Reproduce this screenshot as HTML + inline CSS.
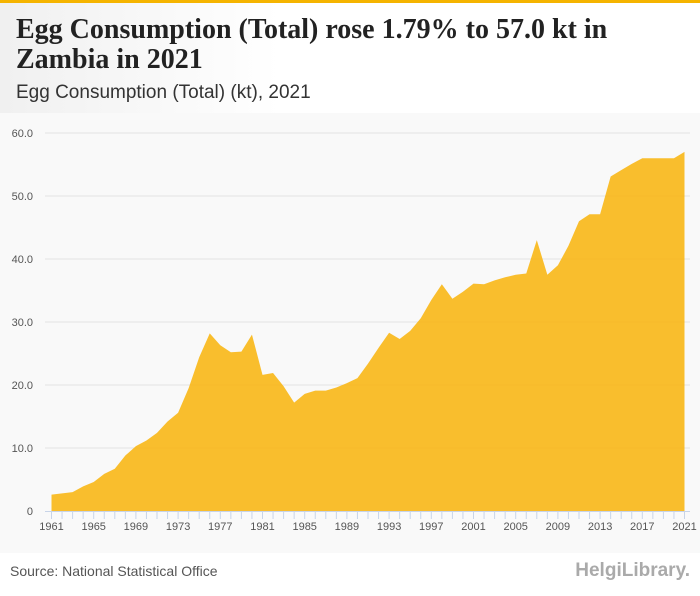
<!DOCTYPE html>
<html><head><meta charset="utf-8"><style>
body{margin:0;width:700px;height:596px;background:#fff;font-family:"Liberation Sans",sans-serif;position:relative;overflow:hidden}
#topbar{position:absolute;left:0;top:0;width:700px;height:3px;background:#f5b400}
#head{position:absolute;left:0;top:3px;width:700px;height:110px;background:linear-gradient(90deg,#f0f0f0,#fff 40%)}
h1{position:absolute;left:16px;top:12px;margin:0;font-family:"Liberation Serif",serif;font-weight:bold;font-size:28px;line-height:30px;color:#222;width:625px}
#sub{position:absolute;left:16px;top:79px;font-size:19px;color:#333}
#chart{position:absolute;left:0;top:113px;background:#f9f9f9}
#src{position:absolute;left:10px;top:563px;font-size:14px;color:#555}
#logo{position:absolute;right:10px;top:560px;font-size:19px;color:#aaa;font-weight:bold}
</style></head><body>
<div id="topbar"></div>
<div id="head">
<h1>Egg Consumption (Total) rose 1.79% to 57.0 kt in Zambia in 2021</h1>
<div id="sub">Egg Consumption (Total) (kt), 2021</div>
</div>
<svg id="chart" width="700" height="440"></svg>
<div id="src">Source: National Statistical Office</div>
<div id="logo">HelgiLibrary.</div>
<script>
const years=[];for(let y=1961;y<=2021;y++)years.push(y);
const values=[2.6,2.8,3.0,3.9,4.6,5.9,6.7,8.8,10.3,11.2,12.4,14.2,15.6,19.5,24.4,28.2,26.3,25.2,25.3,28.0,21.6,21.9,19.8,17.2,18.6,19.1,19.1,19.6,20.3,21.1,23.4,25.9,28.3,27.3,28.6,30.6,33.5,36.0,33.7,34.8,36.1,36.0,36.6,37.1,37.5,37.7,43.0,37.5,39.0,42.1,46.0,47.1,47.1,53.1,54.1,55.1,56.0,56.0,56.0,56.0,57.0];
const yTicks=[0,10,20,30,40,50,60];
const xLabels=[1961,1965,1969,1973,1977,1981,1985,1989,1993,1997,2001,2005,2009,2013,2017,2021];
const svg=document.getElementById('chart');const NS='http://www.w3.org/2000/svg';
const X=y=>51.5+(y-1961)*(684.5-51.5)/60;
const Y=v=>398-v*(398-20)/60;
function mk(t,a){const e=document.createElementNS(NS,t);for(const k in a)e.setAttribute(k,a[k]);svg.appendChild(e);return e;}
yTicks.forEach(t=>{
 if(t>0){const g=mk('line',{x1:45,x2:690,y1:Y(t),y2:Y(t),stroke:'#e2e2e2','stroke-width':1});
 
 }
 const l=mk('text',{x:33,y:Y(t)+4,'text-anchor':'end','font-size':11,fill:'#555','font-family':'Liberation Sans'});
 l.textContent=t===0?'0':t.toFixed(1);
 
 
});
let d='M'+X(years[0])+','+Y(0);
years.forEach((y,i)=>{d+=' L'+X(y)+','+Y(values[i]);});
d+=' L'+X(years[years.length-1])+','+Y(0)+' Z';
const a=mk('path',{d:d,fill:'#f8b716',opacity:0.9});


const ax=mk('line',{x1:45,x2:690,y1:398.5,y2:398.5,stroke:'#c8d4e8'});


years.forEach(y=>{const t=mk('line',{x1:X(y),x2:X(y),y1:398,y2:406,stroke:'#c8d4e8'});
 
 });
xLabels.forEach(y=>{const l=mk('text',{x:X(y),y:417,'text-anchor':'middle','font-size':11,fill:'#555','font-family':'Liberation Sans'});
 l.textContent=y;
 
 });
</script>
</body></html>
